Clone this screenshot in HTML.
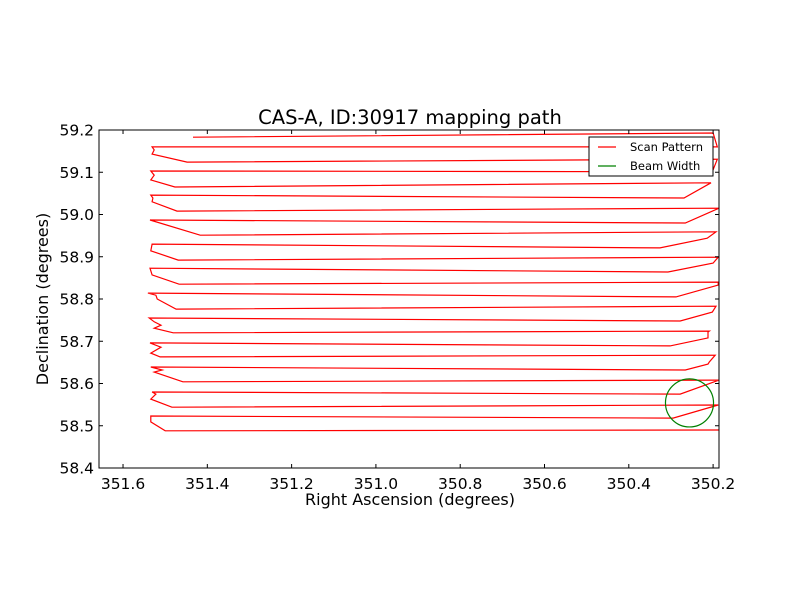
<!DOCTYPE html>
<html><head><meta charset="utf-8"><style>
html,body{margin:0;padding:0;background:#fff;}
svg{display:block;font-family:"DejaVu Sans","Liberation Sans",sans-serif;}
</style></head><body>
<svg id="chart" width="800" height="600" viewBox="0 0 800 600" xmlns="http://www.w3.org/2000/svg">
<rect width="800" height="600" fill="#fff"/>
<text x="410" y="124" font-size="19.5" text-anchor="middle">CAS-A, ID:30917 mapping path</text>
<text x="410" y="505" font-size="16" text-anchor="middle">Right Ascension (degrees)</text>
<text transform="translate(48,299) rotate(-90)" font-size="16" text-anchor="middle">Declination (degrees)</text>
<g id="plot"></g>
</svg>
<script>
const raTicks = [351.6, 351.4, 351.2, 351.0, 350.8, 350.6, 350.4, 350.2];
const decTicks = [59.2, 59.1, 59.0, 58.9, 58.8, 58.7, 58.6, 58.5, 58.4];
const scanRA = [351.434,350.200,350.190,351.531,351.526,351.531,351.448,350.190,350.202,351.534,351.526,351.534,351.477,350.205,350.269,351.534,351.529,351.531,351.472,350.186,350.266,351.536,351.417,350.193,350.214,350.326,351.531,351.534,351.469,350.188,350.200,350.307,351.536,351.531,351.467,350.188,350.188,350.288,351.541,351.522,351.519,351.474,350.193,350.202,350.278,351.538,351.526,351.510,351.526,351.481,350.209,350.212,350.212,350.302,351.536,351.510,351.534,351.512,350.195,350.209,350.212,350.266,351.534,351.507,351.526,351.458,350.186,350.278,351.531,351.522,351.534,351.484,350.188,350.295,351.534,351.534,351.500,350.186];
const scanDec = [59.183,59.193,59.160,59.160,59.153,59.143,59.124,59.131,59.101,59.103,59.093,59.082,59.065,59.075,59.039,59.046,59.039,59.030,59.008,59.015,58.980,58.987,58.951,58.959,58.944,58.921,58.930,58.914,58.892,58.899,58.885,58.864,58.873,58.857,58.835,58.840,58.833,58.805,58.814,58.809,58.800,58.776,58.783,58.769,58.748,58.755,58.746,58.738,58.731,58.720,58.724,58.722,58.708,58.689,58.696,58.686,58.672,58.663,58.667,58.651,58.646,58.632,58.639,58.632,58.627,58.604,58.608,58.575,58.580,58.575,58.563,58.544,58.549,58.518,58.523,58.509,58.488,58.490];
const beamRA = [350.256];
const beamDec = [58.554];
const beamRadius = [0.057];

const NS = "http://www.w3.org/2000/svg";
const L = 99, R = 719, T = 130, B = 468;
const xMin = 351.657, xMax = 350.186, yMin = 58.4, yMax = 59.2;
const xs = v => L + (xMin - v) / (xMin - xMax) * (R - L);
const ys = v => B - (v - yMin) / (yMax - yMin) * (B - T);
const pxPerDeg = (R - L) / (xMin - xMax);
const g = document.getElementById('plot');
function mk(tag, attrs) { const e = document.createElementNS(NS, tag); for (const k in attrs) e.setAttribute(k, attrs[k]); g.appendChild(e); return e; }

const pts = scanRA.map((r, i) => xs(r).toFixed(1) + ',' + ys(scanDec[i]).toFixed(1)).join(' ');
const path = mk('polyline', {points: pts, fill: 'none', stroke: '#ff0000', 'stroke-width': 1.2});



beamRA.forEach((r, i) => {
  const c = mk('circle', {cx: xs(r), cy: ys(beamDec[i]), r: beamRadius[i] * pxPerDeg, fill: 'none', stroke: '#008000', 'stroke-width': 1.2});
  
  
});

const fr = mk('rect', {x: L, y: T, width: R - L, height: B - T, fill: 'none', stroke: '#000', 'stroke-width': 1});



raTicks.forEach(v => {
  const x = xs(v);
  mk('line', {x1: x, y1: B, x2: x, y2: B - 4, stroke: '#000'});
  mk('line', {x1: x, y1: T, x2: x, y2: T + 4, stroke: '#000'});
  const t = mk('text', {x: x, y: B + 21, 'font-size': 15.5, 'text-anchor': 'middle'});
  t.textContent = v.toFixed(1);
  
  
});
decTicks.forEach(v => {
  const y = ys(v);
  mk('line', {x1: L, y1: y, x2: L + 4, y2: y, stroke: '#000'});
  mk('line', {x1: R, y1: y, x2: R - 4, y2: y, stroke: '#000'});
  const t = mk('text', {x: L - 5, y: y + 5.5, 'font-size': 15.5, 'text-anchor': 'end'});
  t.textContent = v.toFixed(1);
  
  
});

const lg = mk('rect', {x: 589, y: 137, width: 124, height: 39, fill: '#fff', stroke: '#000', 'stroke-width': 1});


mk('line', {x1: 598, y1: 147, x2: 616, y2: 147, stroke: '#ff0000', 'stroke-width': 1.2});
mk('line', {x1: 598, y1: 166, x2: 616, y2: 166, stroke: '#008000', 'stroke-width': 1.2});
const l1 = mk('text', {x: 630, y: 151, 'font-size': 11.5});
l1.textContent = 'Scan Pattern';


const l2 = mk('text', {x: 630, y: 170, 'font-size': 11.5});
l2.textContent = 'Beam Width';


</script>
</body></html>
